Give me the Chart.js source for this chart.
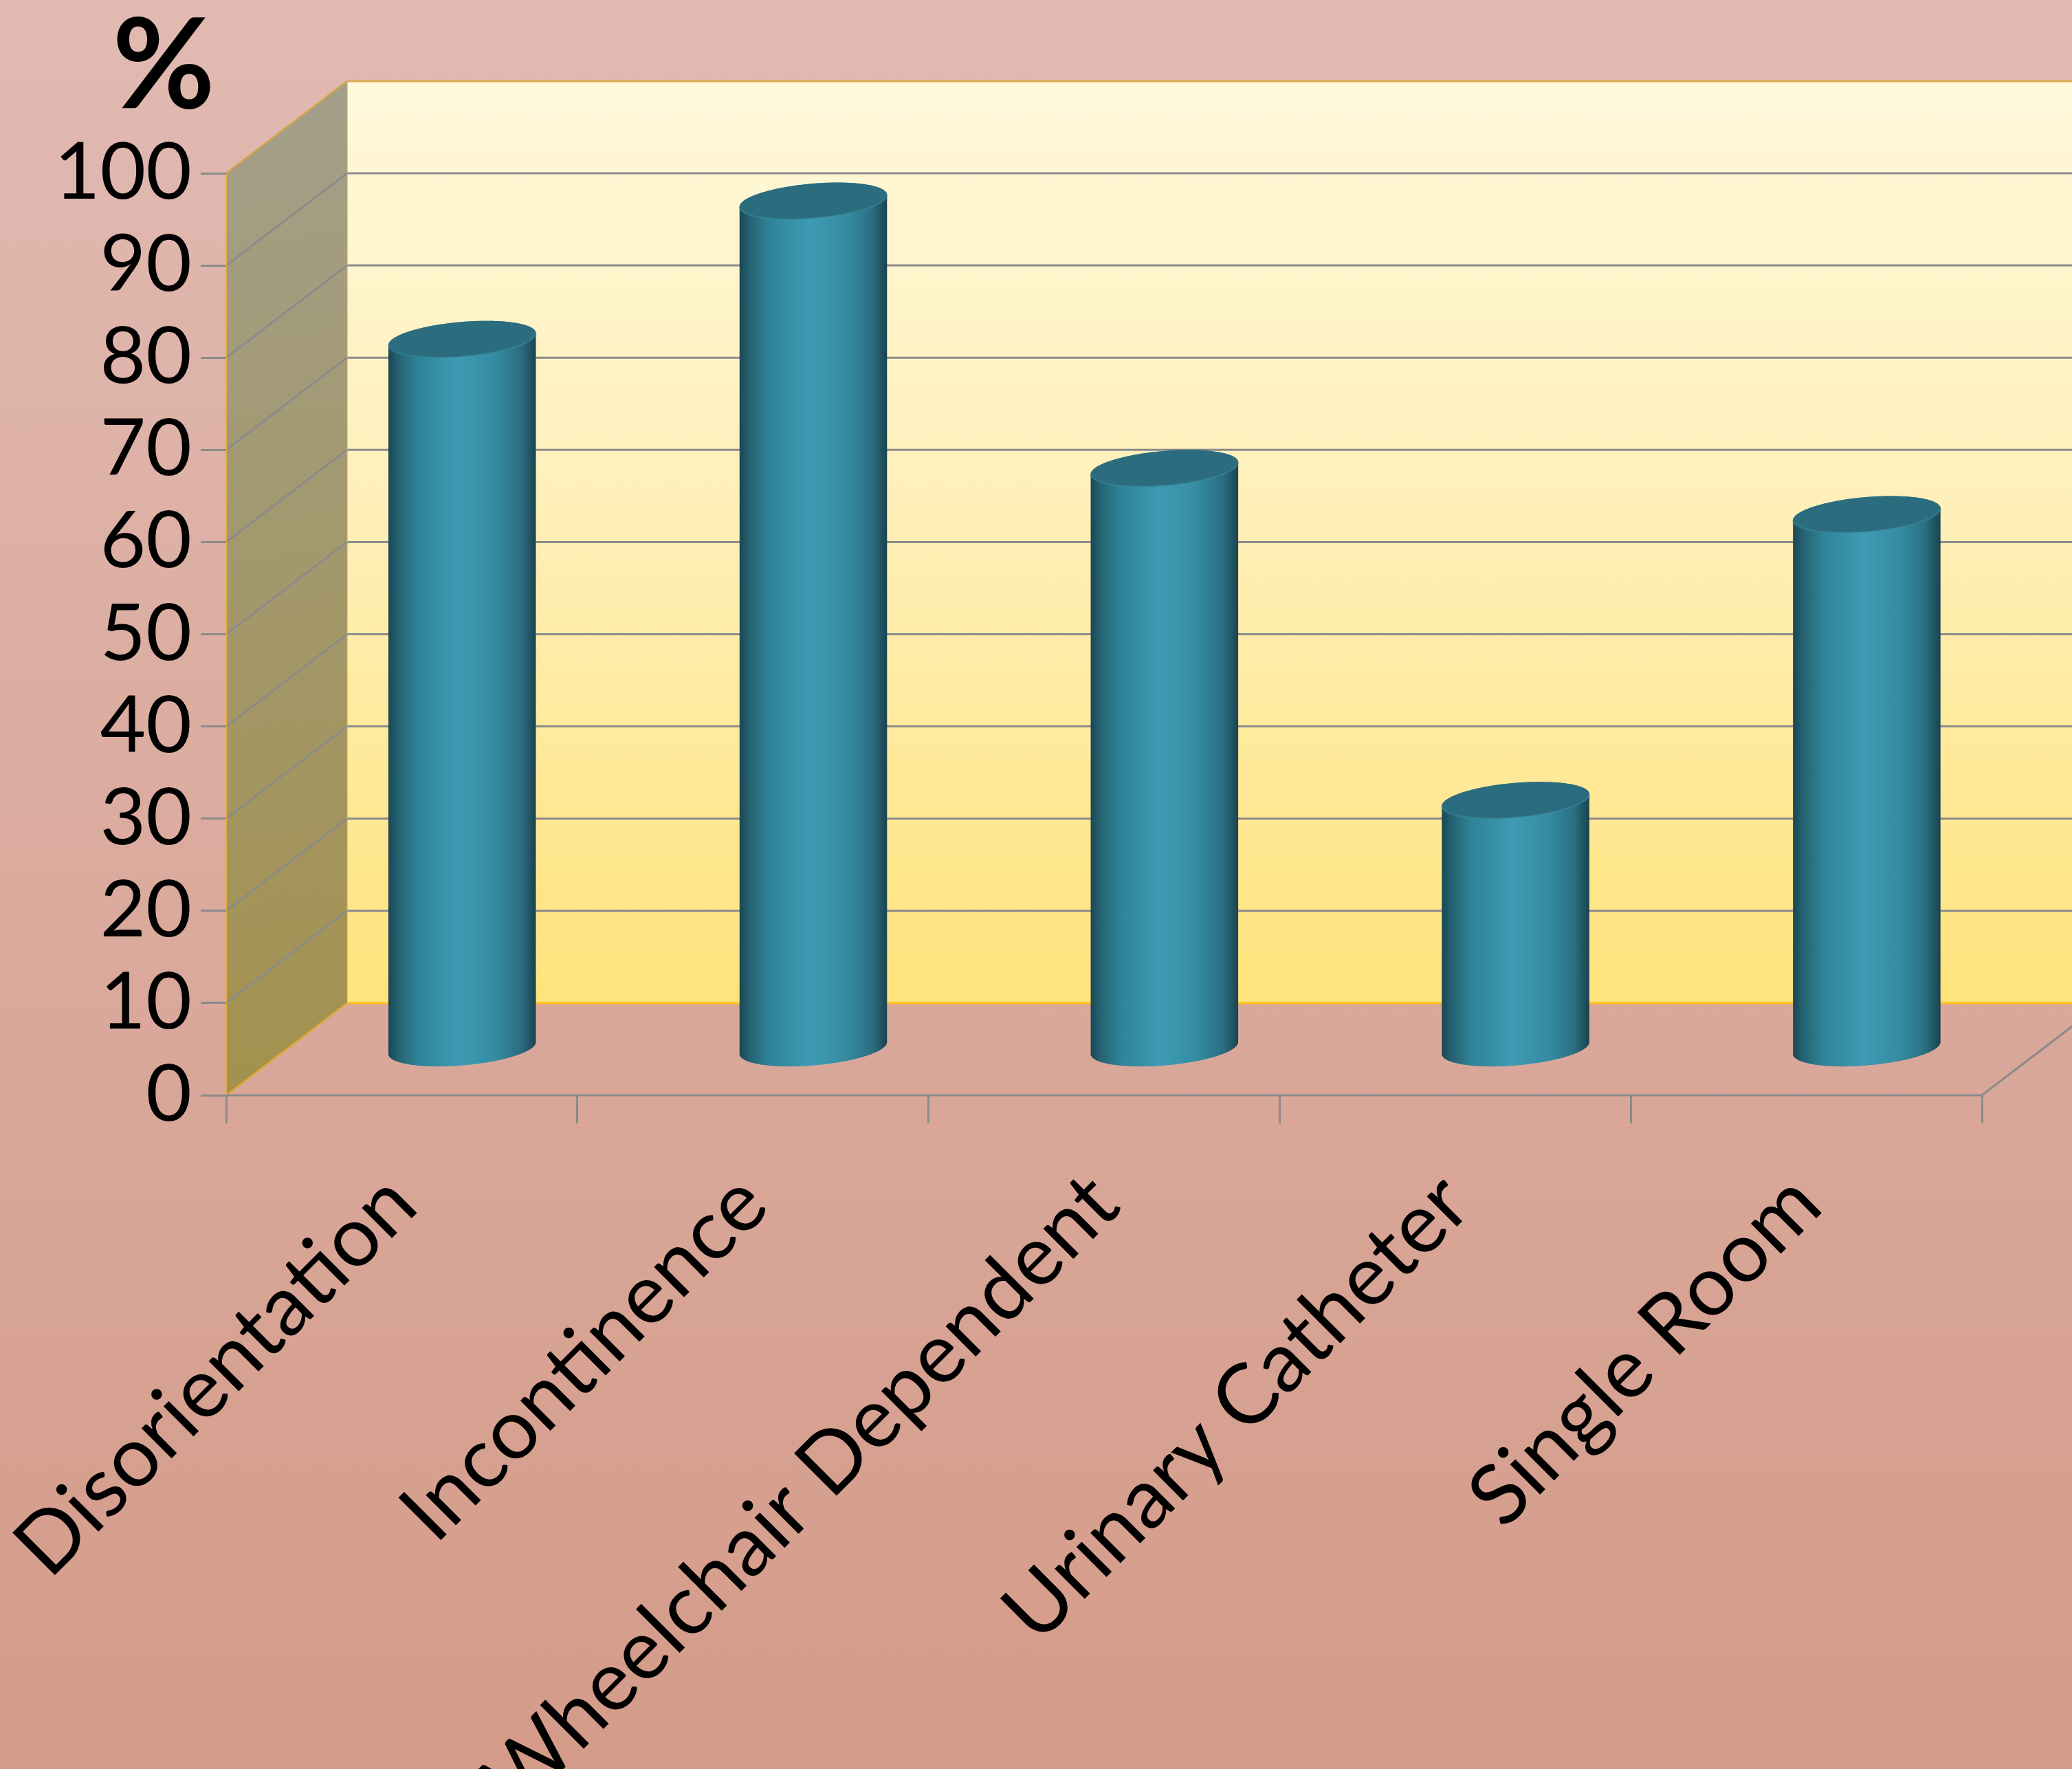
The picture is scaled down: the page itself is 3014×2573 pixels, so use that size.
<!DOCTYPE html>
<html>
<head>
<meta charset="utf-8">
<script src="https://cdn.jsdelivr.net/npm/chart.js@4.4.0/dist/chart.umd.min.js"></script>
<style>
  html, body { margin: 0; padding: 0; background: #dcaa9c; }
  #wrap { width: 3014px; height: 2573px; position: relative; }
  canvas { display: block; }
</style>
</head>
<body>
<div id="wrap"><canvas id="c" width="3014" height="2573"></canvas></div>
<script>
// ---------------- data ----------------
const categories = ['Disorientation', 'Incontinence', 'Wheelchair Dependent', 'Urinary Catheter', 'Single Room'];
const percentValues = [77, 92, 63, 27, 58];
const yMin = 0;
const yMax = 100;
const yStep = 10;
const unitLabel = '%';

// ---------------- style ----------------
const FONT = 'Lato, "Noto Sans", sans-serif';
const GRID_GRAY = '#8b8b8b';
const GOLD = '#f0b52e';

function depthVec(chart) {
  const y = chart.scales.y;
  const dy = y.getPixelForValue(yMin + yStep) - y.getPixelForValue(yMin); // one step up (negative)
  const dx = -dy * 1.31;
  return { dx, dy };
}

function line(ctx, x1, y1, x2, y2, color, w) {
  ctx.beginPath();
  ctx.moveTo(x1, y1);
  ctx.lineTo(x2, y2);
  ctx.strokeStyle = color;
  ctx.lineWidth = w;
  ctx.stroke();
}

const box3d = {
  id: 'box3d',
  beforeDraw(chart) {
    const ctx = chart.ctx;
    const W = chart.width, H = chart.height;
    const xs = chart.scales.x, ys = chart.scales.y;
    ctx.save();
    // page background
    let g = ctx.createLinearGradient(0, 0, 0, H);
    g.addColorStop(0, '#e1bab2');
    g.addColorStop(1, '#d49b89');
    ctx.fillStyle = g;
    ctx.fillRect(0, 0, W, H);

    const { dx, dy } = depthVec(chart);
    const L = xs.left, R = xs.right;
    const y0 = ys.getPixelForValue(yMin), yT = ys.getPixelForValue(yMax);
    const ticks = ys.ticks.map(t => t.value);

    // back wall
    g = ctx.createLinearGradient(0, yT + dy, 0, y0 + dy);
    g.addColorStop(0, '#fff8da');
    g.addColorStop(0.45, '#fff0ba');
    g.addColorStop(1, '#ffe37c');
    ctx.fillStyle = g;
    ctx.fillRect(L + dx, yT + dy, (R - L) + 10, y0 - yT);
    ticks.forEach(v => {
      if (v === yMin || v === yMax) return;
      const yy = ys.getPixelForValue(v) + dy;
      line(ctx, L + dx, yy, R + dx + 10, yy, GRID_GRAY, 3);
    });
    line(ctx, L + dx, yT + dy, R + dx + 10, yT + dy, '#d9ad55', 3);
    line(ctx, L + dx, y0 + dy, R + dx + 10, y0 + dy, '#ffbf1a', 3);
    line(ctx, L + dx, yT + dy, L + dx, y0 + dy, GOLD, 2);

    // left side wall
    g = ctx.createLinearGradient(L, yT + dy, L + dx, y0);
    g.addColorStop(0, '#a39f8a');
    g.addColorStop(1, '#a3914d');
    ctx.beginPath();
    ctx.moveTo(L, yT);
    ctx.lineTo(L + dx, yT + dy);
    ctx.lineTo(L + dx, y0 + dy);
    ctx.lineTo(L, y0);
    ctx.closePath();
    ctx.fillStyle = g;
    ctx.fill();
    ticks.forEach(v => {
      if (v === yMin || v === yMax) return;
      const yy = ys.getPixelForValue(v);
      line(ctx, L, yy, L + dx, yy + dy, GRID_GRAY, 3);
    });
    line(ctx, L, yT, L + dx, yT + dy, '#d2a647', 2.5);
    line(ctx, L, y0, L + dx, y0 + dy, '#d9ab2a', 2.5);
    line(ctx, L, yT, L, y0, '#e6b040', 2);

    // floor edges
    line(ctx, L, y0, R, y0, GRID_GRAY, 3);
    line(ctx, R, y0, R + dx, y0 + dy, GRID_GRAY, 3);
    ctx.restore();
  },
  afterDatasetsDraw(chart) {
    const ctx = chart.ctx;
    const { dx, dy } = depthVec(chart);
    const len = Math.hypot(dx, dy);
    const ux = dx / len, uy = dy / len;
    const meta = chart.getDatasetMeta(0);
    ctx.save();
    meta.data.forEach(el => {
      const p = el.getProps(['x', 'y', 'base', 'width'], true);
      const w = p.width;
      const cx = p.x + dx / 2;
      const yTop = p.y + dy / 2;
      const yBot = p.base + dy / 2;
      const s = w * 0.205;
      const sx = s * ux, sy = s * uy;
      const r = Math.sqrt(Math.max(w * w / 4 - sx * sx, 1));
      const th = Math.atan2(sx, r);
      const pt = (yc, t) => [cx + r * Math.cos(t) + sx * Math.sin(t), yc + sy * Math.sin(t)];
      const N = 90;
      // body
      ctx.beginPath();
      let q = pt(yTop, th + Math.PI);
      ctx.moveTo(q[0], q[1]);
      for (let k = 0; k <= N; k++) {
        q = pt(yBot, th + Math.PI + Math.PI * k / N);
        ctx.lineTo(q[0], q[1]);
      }
      for (let k = 0; k <= N; k++) {
        q = pt(yTop, th + Math.PI * k / N);
        ctx.lineTo(q[0], q[1]);
      }
      ctx.closePath();
      const gb = ctx.createLinearGradient(cx - w / 2, 0, cx + w / 2, 0);
      gb.addColorStop(0.0, '#1b4653');
      gb.addColorStop(0.06, '#24606f');
      gb.addColorStop(0.2, '#2f8398');
      gb.addColorStop(0.48, '#3e9bb4');
      gb.addColorStop(0.72, '#358ca2');
      gb.addColorStop(0.9, '#2a6e80');
      gb.addColorStop(1.0, '#1b434f');
      ctx.fillStyle = gb;
      ctx.fill();
      // top cap
      ctx.beginPath();
      for (let k = 0; k <= 2 * N; k++) {
        q = pt(yTop, Math.PI * k / N);
        if (k === 0) ctx.moveTo(q[0], q[1]); else ctx.lineTo(q[0], q[1]);
      }
      ctx.closePath();
      ctx.fillStyle = '#2b6d7e';
      ctx.fill();
      // lighter front rim of the cap
      ctx.beginPath();
      for (let k = 0; k <= N; k++) {
        q = pt(yTop, th + Math.PI + Math.PI * k / N);
        if (k === 0) ctx.moveTo(q[0], q[1]); else ctx.lineTo(q[0], q[1]);
      }
      ctx.strokeStyle = 'rgba(60,140,160,0.55)';
      ctx.lineWidth = 2;
      ctx.stroke();
    });
    ctx.restore();
  },
  afterDraw(chart) {
    const ctx = chart.ctx;
    ctx.save();
    ctx.fillStyle = '#000';
    ctx.font = 'bold 182px ' + FONT;
    ctx.textAlign = 'center';
    ctx.textBaseline = 'middle';
    ctx.fillText(unitLabel, 238, 98);
    ctx.restore();
  }
};

new Chart(document.getElementById('c'), {
  type: 'bar',
  data: {
    labels: categories,
    datasets: [{
      data: percentValues,
      backgroundColor: 'rgba(0,0,0,0)',
      borderWidth: 0,
      barPercentage: 0.42,
      categoryPercentage: 1.0
    }]
  },
  options: {
    responsive: false,
    animation: false,
    devicePixelRatio: 1,
    layout: { padding: { top: 252, right: 131, left: 0, bottom: 0 } },
    plugins: { legend: { display: false }, tooltip: { enabled: false }, title: { display: false } },
    scales: {
      y: {
        min: yMin,
        max: yMax,
        ticks: { stepSize: yStep, autoSkip: false, color: '#000', padding: 13, font: { family: FONT, size: 115, lineHeight: 1.0 } },
        grid: { drawOnChartArea: false, drawTicks: true, tickLength: 37, color: GRID_GRAY, lineWidth: 3 },
        border: { display: false },
        afterFit(scale) { scale.width = 329; scale.paddingTop = 0; scale.paddingBottom = 0; }
      },
      x: {
        ticks: {
          color: '#000', autoSkip: false, minRotation: 45, maxRotation: 45, padding: 45,
          font: { family: FONT, size: 122 }
        },
        grid: { offset: true, drawOnChartArea: false, drawTicks: true, tickLength: 41, color: GRID_GRAY, lineWidth: 3 },
        border: { display: false },
        afterFit(scale) { scale.height = 980; scale.paddingLeft = 0; scale.paddingRight = 0; }
      }
    }
  },
  plugins: [box3d]
});
</script>
</body>
</html>
